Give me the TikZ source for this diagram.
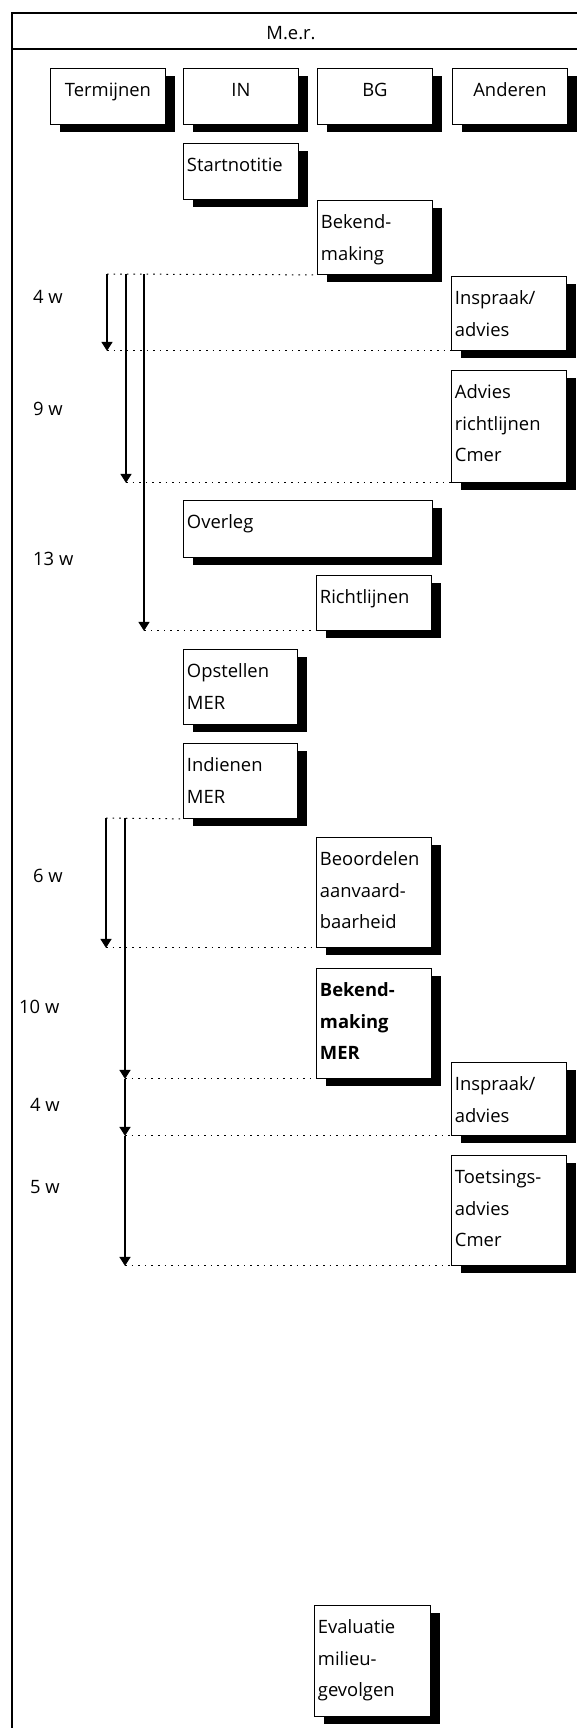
\documentclass[tikz,border=0pt]{standalone}
\usepackage{fontspec}
\setmainfont{Open Sans}
\usetikzlibrary{arrows.meta,shadows}
\begin{document}
\begin{tikzpicture}[x=1bp,y=-1bp,
  every node/.style={font=\fontsize{18.4bp}{31.5bp}\selectfont},
  box/.style={draw, line width=0.9bp, fill=white, anchor=north west,
    inner xsep=3.5bp, inner ysep=0pt, text height=28.5bp, align=left,
    drop shadow={fill=black, opacity=1, shadow xshift=10bp, shadow yshift=-8bp}},
  hdr/.style={box, align=center, text width=108bp, text depth=27.5bp},
  dots/.style={line width=1bp, dash pattern=on 1.6bp off 5bp},
  arr/.style={line width=1.6bp, -{Triangle[width=11bp,length=9bp]}},
  lbl/.style={anchor=base west, inner sep=0pt},
]
\useasboundingbox (0,0) rectangle (577,1728);
\clip (0,0) rectangle (577,1728);

% outer frame and title bar
\draw[line width=1.3bp] (600,13) -- (12,13) -- (12,1760);
\draw[line width=1.3bp] (12,49) -- (600,49);
\node[anchor=base, inner sep=0pt] (title) at (291,39.5) {M.e.r.};

% column headers
\node[hdr] (hterm) at (50,68) {Termijnen};
\node[hdr] (hin) at (183,68) {IN};
\node[hdr] (hbg) at (317,68) {BG};
\node[hdr] (hand) at (452,68) {Anderen};

% procedure steps
\node[box, text width=108bp, text depth=27.5bp] (start) at (183,143) {Startnotitie};
\node[box, text width=108bp, text depth=45.5bp] (bek) at (317,200) {Bekend-\\making};
\node[box, text width=108bp, text depth=45.5bp] (ins1) at (451,276) {Inspraak/\\advies};
\node[box, text width=108bp, text depth=83.5bp] (adv) at (451,370) {Advies\\richtlijnen\\Cmer};
\node[box, text width=242bp, text depth=28.5bp] (overleg) at (183,500) {Overleg};
\node[box, text width=108bp, text depth=26.5bp] (richt) at (316,575) {Richtlijnen};
\node[box, text width=107bp, text depth=46.5bp] (opst) at (183,649) {Opstellen\\MER};
\node[box, text width=107bp, text depth=46.5bp] (ind) at (183,743) {Indienen\\MER};
\node[box, text width=108bp, text depth=81.5bp] (beo) at (316,837) {Beoordelen\\aanvaard-\\baarheid};
\node[box, text width=108bp, text depth=81.5bp, font=\fontsize{18.4bp}{31.5bp}\selectfont\bfseries] (bmer) at (316,968) {Bekend-\\making\\MER};
\node[box, text width=108bp, text depth=44.5bp] (ins2) at (451,1062) {Inspraak/\\advies};
\node[box, text width=108bp, text depth=81.5bp] (toets) at (451,1155) {Toetsings-\\advies\\Cmer};
\node[box, text width=109bp, text depth=82.5bp] (eval) at (314,1605) {Evaluatie\\milieu-\\gevolgen};

% first phase: time spans
\coordinate (t1) at (107,274);
\coordinate (t2) at (126,274);
\coordinate (t3) at (144,274);
\coordinate (e1) at (t1 |- ins1.south west);
\coordinate (e2) at (t2 |- adv.south west);
\coordinate (e3) at (t3 |- richt.south west);
\draw[dots] (t1) -- (bek.south west);
\draw[dots] (e1) -- (ins1.south west);
\draw[dots] (e2) -- (adv.south west);
\draw[dots] (e3) -- (richt.south west);
\draw[arr] (t1) -- (e1);
\draw[arr] (t2) -- (e2);
\draw[arr] (t3) -- (e3);

% second phase: time spans
\coordinate (t4) at (106,818);
\coordinate (t5) at (125,818);
\coordinate (e4) at (t4 |- beo.south west);
\coordinate (e5a) at (t5 |- bmer.south west);
\coordinate (e5b) at (t5 |- ins2.south west);
\coordinate (e5c) at (t5 |- toets.south west);
\draw[dots] (t4) -- (ind.south west);
\draw[dots] (e4) -- (beo.south west);
\draw[dots] (e5a) -- (bmer.south west);
\draw[dots] (e5b) -- (ins2.south west);
\draw[dots] (e5c) -- (toets.south west);
\draw[arr] (t4) -- (e4);
\draw[arr] (t5) -- (e5a);
\draw[arr] (e5a) -- (e5b);
\draw[arr] (e5b) -- (e5c);

% durations
\node[lbl] (w1) at (33,303.5) {4 w};
\node[lbl] (w2) at (33,415.5) {9 w};
\node[lbl] (w3) at (33,565.5) {13 w};
\node[lbl] (w4) at (33,882.5) {6 w};
\node[lbl] (w5) at (19,1013.5) {10 w};
\node[lbl] (w6) at (30,1111.5) {4 w};
\node[lbl] (w7) at (30,1193.5) {5 w};
\end{tikzpicture}
\end{document}
